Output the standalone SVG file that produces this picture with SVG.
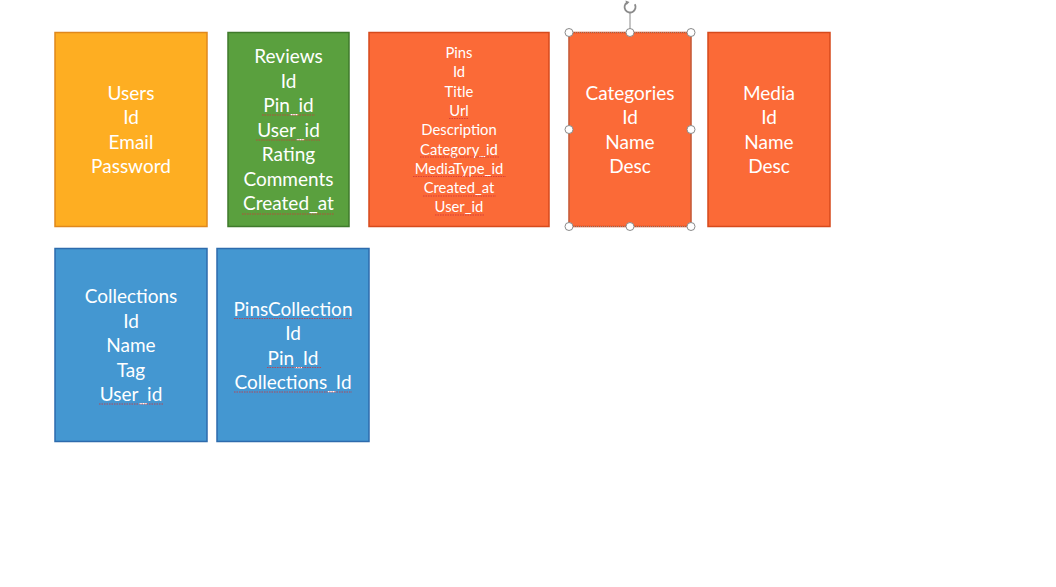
<svg xmlns="http://www.w3.org/2000/svg" width="1056" height="587" viewBox="0 0 1056 587">
<style>
.t{font-family:Lato,"Liberation Sans",sans-serif;fill:#fff;text-anchor:middle;font-size:19px}
.s{font-size:14.8px}
.sq{stroke:#d0343a;stroke-width:1;stroke-dasharray:1.5 1;fill:none;opacity:0.8}
.yel{fill:#FEAE22;stroke:#E0881C;stroke-width:1.5}
.grn{fill:#5AA03E;stroke:#3F7A2B;stroke-width:1.5}
.org{fill:#FB6A37;stroke:#D64A1C;stroke-width:1.5}
.blu{fill:#4497D1;stroke:#2D6BAD;stroke-width:1.5}
.h{fill:#fff;stroke:#8a8a8a;stroke-width:1}
</style>
<rect width="1056" height="587" fill="#fff"/>
<g id="users">
<rect class="yel" x="55" y="32.5" width="152" height="194"/>
<text class="t" x="131" y="99.5">Users</text>
<text class="t" x="131" y="124">Id</text>
<text class="t" x="131" y="148.5">Email</text>
<text class="t" x="131" y="173">Password</text>
</g>
<g id="reviews">
<rect class="grn" x="228" y="32.5" width="121" height="194"/>
<text class="t" x="288.5" y="63">Reviews</text>
<text class="t" x="288.5" y="87.5">Id</text>
<text class="t" x="288.5" y="112">Pin_id</text>
<text class="t" x="288.5" y="136.5">User_id</text>
<text class="t" x="288.5" y="161">Rating</text>
<text class="t" x="288.5" y="185.5">Comments</text>
<text class="t" x="288.5" y="210">Created_at</text>
<path class="sq" d="M262 115h53M256 140h64M242 214h92"/>
</g>
<g id="pins">
<rect class="org" x="369" y="32.5" width="180" height="194"/>
<text class="t s" x="459" y="58">Pins</text>
<text class="t s" x="459" y="77.3">Id</text>
<text class="t s" x="459" y="96.6">Title</text>
<text class="t s" x="459" y="115.9">Url</text>
<text class="t s" x="459" y="135.2">Description</text>
<text class="t s" x="459" y="154.5">Category_id</text>
<text class="t s" x="459" y="173.8">MediaType_id</text>
<text class="t s" x="459" y="193.1">Created_at</text>
<text class="t s" x="459" y="212.4">User_id</text>
<path class="sq" d="M449 118.5h20M420 157h79M413 176.5h93M423 196h73M435 215h50"/>
</g>
<g id="categories">
<rect class="org" x="569" y="32.5" width="122" height="194"/>
<rect x="569" y="32.5" width="122" height="194" fill="none" stroke="#9a9a9a" stroke-width="0.8" stroke-dasharray="1 1"/>
<text class="t" x="630" y="99.5">Categories</text>
<text class="t" x="630" y="124">Id</text>
<text class="t" x="630" y="148.5">Name</text>
<text class="t" x="630" y="173">Desc</text>
</g>
<g id="media">
<rect class="org" x="708" y="32.5" width="122" height="194"/>
<text class="t" x="769" y="99.5">Media</text>
<text class="t" x="769" y="124">Id</text>
<text class="t" x="769" y="148.5">Name</text>
<text class="t" x="769" y="173">Desc</text>
</g>
<g id="collections">
<rect class="blu" x="55" y="248.5" width="152" height="193"/>
<text class="t" x="131" y="303">Collections</text>
<text class="t" x="131" y="327.5">Id</text>
<text class="t" x="131" y="352">Name</text>
<text class="t" x="131" y="376.5">Tag</text>
<text class="t" x="131" y="401">User_id</text>
<path class="sq" d="M99 404h64"/>
</g>
<g id="pinscollection">
<rect class="blu" x="217" y="248.5" width="152" height="193"/>
<text class="t" x="293" y="315.5">PinsCollection</text>
<text class="t" x="293" y="340">Id</text>
<text class="t" x="293" y="364.5">Pin_Id</text>
<text class="t" x="293" y="389">Collections_Id</text>
<path class="sq" d="M234 318.5h118M267 367.5h54M234 392h118"/>
</g>
<g id="connectors"></g>
<g id="selection">
<line x1="630" y1="13" x2="630" y2="32" stroke="#8a8a8a" stroke-width="1"/>
<path d="M634.8 4.2A5.5 5.5 0 1 1 627 2.4" fill="none" stroke="#8a8a8a" stroke-width="1.8"/>
<path d="M625.5 0.5l4 1.5l-3 3z" fill="#8a8a8a"/>
<circle class="h" cx="569" cy="32.5" r="4"/>
<circle class="h" cx="630" cy="32.5" r="4"/>
<circle class="h" cx="691" cy="32.5" r="4"/>
<circle class="h" cx="569" cy="129.5" r="4"/>
<circle class="h" cx="691" cy="129.5" r="4"/>
<circle class="h" cx="569" cy="226.5" r="4"/>
<circle class="h" cx="630" cy="226.5" r="4"/>
<circle class="h" cx="691" cy="226.5" r="4"/>
</g>
</svg>
